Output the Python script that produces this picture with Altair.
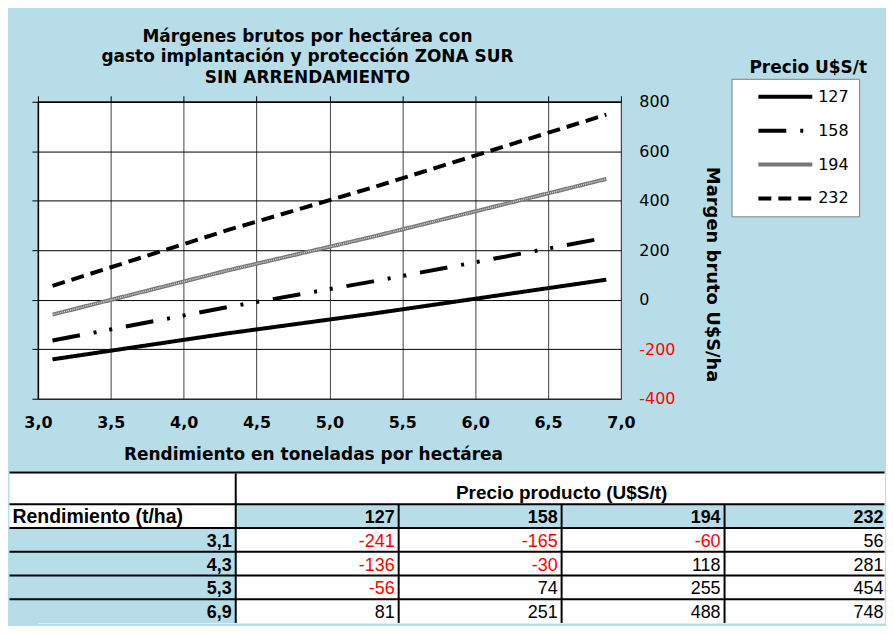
import altair as alt
import pandas as pd

# ---------------- data ----------------
rend = [3.1, 4.3, 5.3, 6.9]
rend_labels = ["3,1", "4,3", "5,3", "6,9"]
precios = ["127", "158", "194", "232"]
m127 = [-241, -136, -56, 81]
m158 = [-165, -30, 74, 251]
m194 = [-60, 118, 255, 488]
m232 = [56, 281, 454, 748]
x_ticks = [3.0, 3.5, 4.0, 4.5, 5.0, 5.5, 6.0, 6.5, 7.0]
y_ticks = [-400, -200, 0, 200, 400, 600, 800]

titulo = ["Márgenes brutos por hectárea con",
          "gasto implantación y protección ZONA SUR",
          "SIN ARRENDAMIENTO"]
x_title = "Rendimiento en toneladas por hectárea"
y_title = "Margen bruto U$S/ha"
legend_title = "Precio U$S/t"
tabla_titulo = "Precio producto (U$S/t)"
tabla_rend = "Rendimiento (t/ha)"

BLUE = "#B7DEE8"
FONT = "DejaVu Sans"
TFONT = "Liberation Sans"
NBSP = "\u00a0"

series = [m127, m158, m194, m232]
rows = []
for p, vals in zip(precios, series):
    for r, v in zip(rend, vals):
        rows.append({"rend": r, "margen": v, "precio": p})
lines = pd.DataFrame(rows)

x_scale = alt.Scale(domain=[3, 7], nice=False, zero=False)
y_scale = alt.Scale(domain=[-400, 800], nice=False, zero=False)

dash_range = [[1, 0], [28, 14, 3, 13, 3, 14], [1, 0], [13, 7]]
color_range = ["black", "black", "#767676", "black"]

leg = alt.Legend(
    title=None, orient="none", legendX=696, legendY=-23,
    fillColor="white", strokeColor="#7f7f7f", padding=10,
    symbolType="M-5,0H5", symbolSize=117, symbolStrokeWidth=4,
    symbolOffset=36, labelFont=FONT, labelFontSize=16, labelColor="black",
    labelOffset=25, rowPadding=18, labelExpr="datum.label + '" + NBSP * 4 + "'",
)

lines_layer = alt.Chart(lines).mark_line(strokeWidth=4, clip=True).encode(
    x=alt.X("rend:Q", scale=x_scale, axis=alt.Axis(
        orient="bottom", values=x_ticks, grid=False, ticks=False, domain=False,
        labelExpr="replace(format(datum.value, '.1f'), '.', ',')", labelFlush=False,
        labelFont=FONT, labelFontSize=16, labelFontWeight="bold", labelColor="black",
        labelPadding=16, title=x_title, titleFont=FONT, titleFontSize=17,
        titleFontWeight="bold", titleColor="black", titlePadding=16, titleX=276)),
    y=alt.Y("margen:Q", scale=y_scale, axis=alt.Axis(
        orient="right", values=y_ticks, grid=True, gridColor="black", gridWidth=1,
        ticks=False, domain=False, labelFont=FONT, labelFontSize=16,
        labelExpr="datum.value < 0 ? '-' + abs(datum.value) : '' + datum.value",
        labelColor={"condition": {"test": "datum.value < 0", "value": "#ff0000"}, "value": "black"},
        labelPadding=18, title=y_title, titleFont=FONT, titleFontSize=18,
        titleFontWeight="bold", titleColor="black", titlePadding=28, titleY=173)),
    color=alt.Color("precio:N", scale=alt.Scale(domain=precios, range=color_range), legend=leg),
    strokeDash=alt.StrokeDash("precio:N", scale=alt.Scale(domain=precios, range=dash_range), legend=leg),
)

texture = alt.Chart(lines).transform_filter("datum.precio == '194'").mark_line(
    color="white", strokeWidth=1.5, strokeDash=[1, 1], opacity=0.7, clip=True
).encode(
    x=alt.X("rend:Q", scale=x_scale, axis=None),
    y=alt.Y("margen:Q", scale=y_scale, axis=None),
)

frame_axes = alt.Chart(lines).mark_line(opacity=0).encode(
    x=alt.X("rend:Q", scale=x_scale, axis=alt.Axis(
        orient="top", values=x_ticks, labels=False, title=None, grid=True,
        gridColor="#444444", gridWidth=1, ticks=True, tickSize=6, tickColor="black",
        domain=True, domainColor="black", domainWidth=1.5)),
    y=alt.Y("margen:Q", scale=y_scale, axis=alt.Axis(
        orient="left", values=y_ticks, labels=False, title=None, grid=False,
        ticks=True, tickSize=6, tickColor="black", domain=True, domainColor="black",
        domainWidth=1.5, minExtent=28)),
    detail="precio:N",
)

leg_title = alt.Chart(pd.DataFrame({"t": [legend_title]})).mark_text(
    font=FONT, fontSize=17, fontWeight="bold", color="black", align="center",
    baseline="alphabetic"
).encode(text="t:N", x=alt.value(773), y=alt.value(-29))

top = alt.layer(frame_axes, lines_layer, texture, leg_title).resolve_axis(
    x="independent", y="independent"
).properties(
    width=585, height=298,
    view=alt.ViewBackground(fill="white", stroke="#555555", strokeWidth=1),
    title=alt.TitleParams(text=titulo, font=FONT, fontSize=17, fontWeight="bold",
                          color="black", lineHeight=20.5, anchor="middle",
                          frame="group", dx=-22, offset=-28),
)

# ---------------- table ----------------
# table drawn in column units (163.5 px) and row units (23.8 px);
# column A starts 28.5 px left of the plot origin shared with the chart above
TW, TH = 849.5, 152
CU, RU = 163.5, 23.8
U0 = 28.5 / CU
U1 = U0 + TW / CU
A = 227 / CU
col_edges = [0, A, A + 1, A + 2, A + 3, A + 4]
row_edges = [0.084, 1.387, 2.387, 3.387, 4.387, 5.387, 6.387]
tx = alt.Scale(domain=[U0, U1], nice=False, zero=False)
ty = alt.Scale(domain=[0, TH / RU], nice=False, zero=False, reverse=True)

cells = []
cells.append({"x0": col_edges[0], "x1": col_edges[1], "y0": 0.0, "y1": row_edges[2], "bg": "white"})
cells.append({"x0": col_edges[1], "x1": U1, "y0": row_edges[1], "y1": row_edges[2], "bg": BLUE})
for i in range(len(rend_labels)):
    cells.append({"x0": col_edges[0], "x1": col_edges[1], "y0": row_edges[i + 2], "y1": row_edges[i + 3], "bg": BLUE})
cells = pd.DataFrame(cells)

rules = []
rules.append({"x0": 0, "x1": U1, "y0": 0.04, "y1": 0.04})
for e in row_edges[1:-1]:
    rules.append({"x0": 0, "x1": U1, "y0": e, "y1": e})
rules.append({"x0": col_edges[1], "x1": col_edges[1], "y0": row_edges[0], "y1": row_edges[-1]})
for e in col_edges[2:5]:
    rules.append({"x0": e, "x1": e, "y0": row_edges[1], "y1": row_edges[-1]})
rules = pd.DataFrame(rules)

hdr = pd.DataFrame({"x": col_edges[2:6], "y": [row_edges[2]] * 4, "t": precios})
rlab = pd.DataFrame({"x": [col_edges[1]] * 4, "y": row_edges[3:7], "t": rend_labels})
vals = []
for j, s in enumerate(series):
    for i, v in enumerate(s):
        vals.append({"x": col_edges[j + 2], "y": row_edges[i + 3], "v": v, "t": str(v)})
vals = pd.DataFrame(vals)
misc = pd.DataFrame({"x": [0], "y": [row_edges[2]], "t": [tabla_rend]})
ttl = pd.DataFrame({"x": [(col_edges[1] + col_edges[5]) / 2], "y": [row_edges[1]], "t": [tabla_titulo]})

rect_l = alt.Chart(cells).mark_rect(clip=False).encode(
    x=alt.X("x0:Q", scale=tx, axis=None), x2="x1:Q",
    y=alt.Y("y0:Q", scale=ty, axis=None), y2="y1:Q",
    fill=alt.Fill("bg:N", scale=None),
)
rule_l = alt.Chart(rules).mark_rule(strokeWidth=2, color="black", clip=False).encode(
    x=alt.X("x0:Q", scale=tx, axis=None), x2="x1:Q",
    y=alt.Y("y0:Q", scale=ty, axis=None), y2="y1:Q",
)

def txt(df, clip, **kw):
    return alt.Chart(df).mark_text(font=TFONT, baseline="alphabetic", clip=clip, **kw)

enc = dict(x=alt.X("x:Q", scale=tx, axis=None), y=alt.Y("y:Q", scale=ty, axis=None), text="t:N")
hdr_l = txt(hdr, True, fontSize=18, fontWeight="bold", align="right", dx=-4, dy=-5, color="black").encode(**enc)
rlab_l = txt(rlab, False, fontSize=18, fontWeight="bold", align="right", dx=-4, dy=-5, color="black").encode(**enc)
vals_l = txt(vals, True, fontSize=18, align="right", dx=-4, dy=-5).encode(
    color=alt.condition("datum.v < 0", alt.value("#ff0000"), alt.value("black")), **enc)
misc_l = txt(misc, False, fontSize=19.5, fontWeight="bold", align="left", dx=3, dy=-5, color="black").encode(**enc)
ttl_l = txt(ttl, True, fontSize=19, fontWeight="bold", align="center", dy=-5, color="black").encode(**enc)

table = alt.layer(rect_l, rule_l, hdr_l, rlab_l, vals_l, misc_l, ttl_l).properties(
    width=TW, height=TH,
    view=alt.ViewBackground(fill="white", stroke="transparent"),
)

chart = alt.ConcatChart(concat=[top, table], columns=1, spacing=7).properties(
    background=BLUE,
    padding={"left": 0, "top": 18, "right": 0, "bottom": 0},
)

chart.save("out.html", embed_options={"renderer": "svg", "actions": False})
